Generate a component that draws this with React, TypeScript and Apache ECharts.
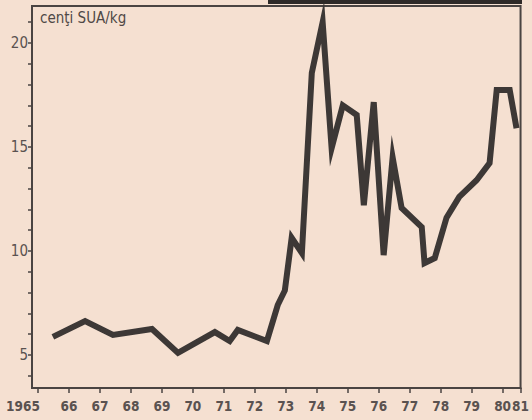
import React, { useEffect, useRef } from "react";
import * as echarts from "echarts";

// Years (fractional positions along the time axis) and prices in US cents per kg
const years = [
  1965.48, 1966.52, 1967.42, 1968.68, 1969.52, 1970.71, 1971.19, 1971.45,
  1972.39, 1972.74, 1972.97, 1973.19, 1973.52, 1973.84, 1974.19, 1974.48,
  1974.84, 1975.29, 1975.52, 1975.84, 1976.16, 1976.45, 1976.74, 1977.39,
  1977.48, 1977.81, 1978.19, 1978.6, 1979.16, 1979.58, 1979.81, 1980.23,
  1980.45,
];
const prices = [
  5.87, 6.63, 5.96, 6.25, 5.1, 6.1, 5.67, 6.2,
  5.67, 7.4, 8.1, 10.63, 9.9, 18.56, 21.0, 14.95,
  17.0, 16.54, 12.2, 17.16, 9.8, 14.5, 12.07, 11.15,
  9.42, 9.66, 11.6, 12.6, 13.4, 14.23, 17.74, 17.74,
  15.9,
];
const xTickYears = [
  1965, 1966, 1967, 1968, 1969, 1970, 1971, 1972, 1973, 1974, 1975, 1976,
  1977, 1978, 1979, 1980, 1980.58,
];
const yTicks = [4, 5, 6, 7, 8, 9, 10, 11, 12, 13, 14, 15, 16, 17, 18, 19, 20, 21];
const yLabels = [5, 10, 15, 20];
const unitLabel = "cenţi SUA/kg";

const X_MIN = 1964.806;
const X_MAX = 1980.58;
const Y_MIN = 3.41;
const Y_MAX = 21.78;

const ink = "#3d3836";
const textInk = "#4f4846";
const labelInk = "#5a5250";
const font = "'DejaVu Sans Condensed', 'DejaVu Sans', sans-serif";

export default function App() {
  const ref = useRef<HTMLDivElement>(null);
  useEffect(() => {
    if (!ref.current) return;
    const chart = echarts.init(ref.current, undefined, { renderer: "svg" });
    chart.setOption({
      animation: false,
      backgroundColor: "#f5e0d1",
      grid: {
        left: 32,
        top: 6,
        right: 11,
        bottom: 32,
        show: true,
        borderColor: "#4a4442",
        borderWidth: 2,
        backgroundColor: "transparent",
      },
      graphic: [
        {
          type: "rect",
          shape: { x: 268, y: 0, width: 254, height: 4 },
          style: { fill: "#2e2a28" },
          silent: true,
        },
        {
          type: "text",
          left: 40,
          top: 10,
          style: {
            text: unitLabel,
            fill: textInk,
            font: `15px ${font}`,
          },
        },
      ],
      xAxis: {
        type: "value",
        min: X_MIN,
        max: X_MAX,
        splitLine: { show: false },
        axisLine: { show: true, lineStyle: { color: "#4a4442", width: 2 } },
        axisTick: {
          show: true,
          customValues: xTickYears,
          length: 5,
          lineStyle: { color: "#4a4442", width: 1.5 },
        },
        axisLabel: {
          customValues: xTickYears,
          formatter: (v: number) =>
            v < 1965.5 ? "{first|1965}" : "{n|" + (Math.round(v) % 100) + "}",
          color: labelInk,
          fontSize: 13.5,
          fontWeight: 700,
          fontFamily: font,
          rich: {
            first: {
              color: labelInk,
              fontSize: 13.5,
              fontWeight: 700,
              fontFamily: font,
              padding: [0, 30, 0, 0],
            },
            n: {
              color: labelInk,
              fontSize: 13.5,
              fontWeight: 700,
              fontFamily: font,
            },
          },
          margin: 11,
          hideOverlap: false,
        },
      },
      yAxis: {
        type: "value",
        min: Y_MIN,
        max: Y_MAX,
        splitLine: { show: false },
        axisLine: { show: true, lineStyle: { color: "#4a4442", width: 2 } },
        axisTick: {
          show: true,
          customValues: yTicks,
          length: 4,
          lineStyle: { color: "#4a4442", width: 1.5 },
        },
        axisLabel: {
          customValues: yLabels,
          color: labelInk,
          fontSize: 15,
          fontFamily: font,
          margin: 4,
        },
      },
      series: [
        {
          type: "line",
          data: years.map((y, i) => [y, prices[i]]),
          showSymbol: false,
          symbol: "none",
          lineStyle: {
            color: ink,
            width: 6,
            join: "miter",
            miterLimit: 8,
            cap: "butt",
          },
        },
      ],
    });
    return () => chart.dispose();
  }, []);
  return (
    <div
      ref={ref}
      style={{ width: 532, height: 420, position: "absolute", left: 0, top: 0 }}
    />
  );
}
